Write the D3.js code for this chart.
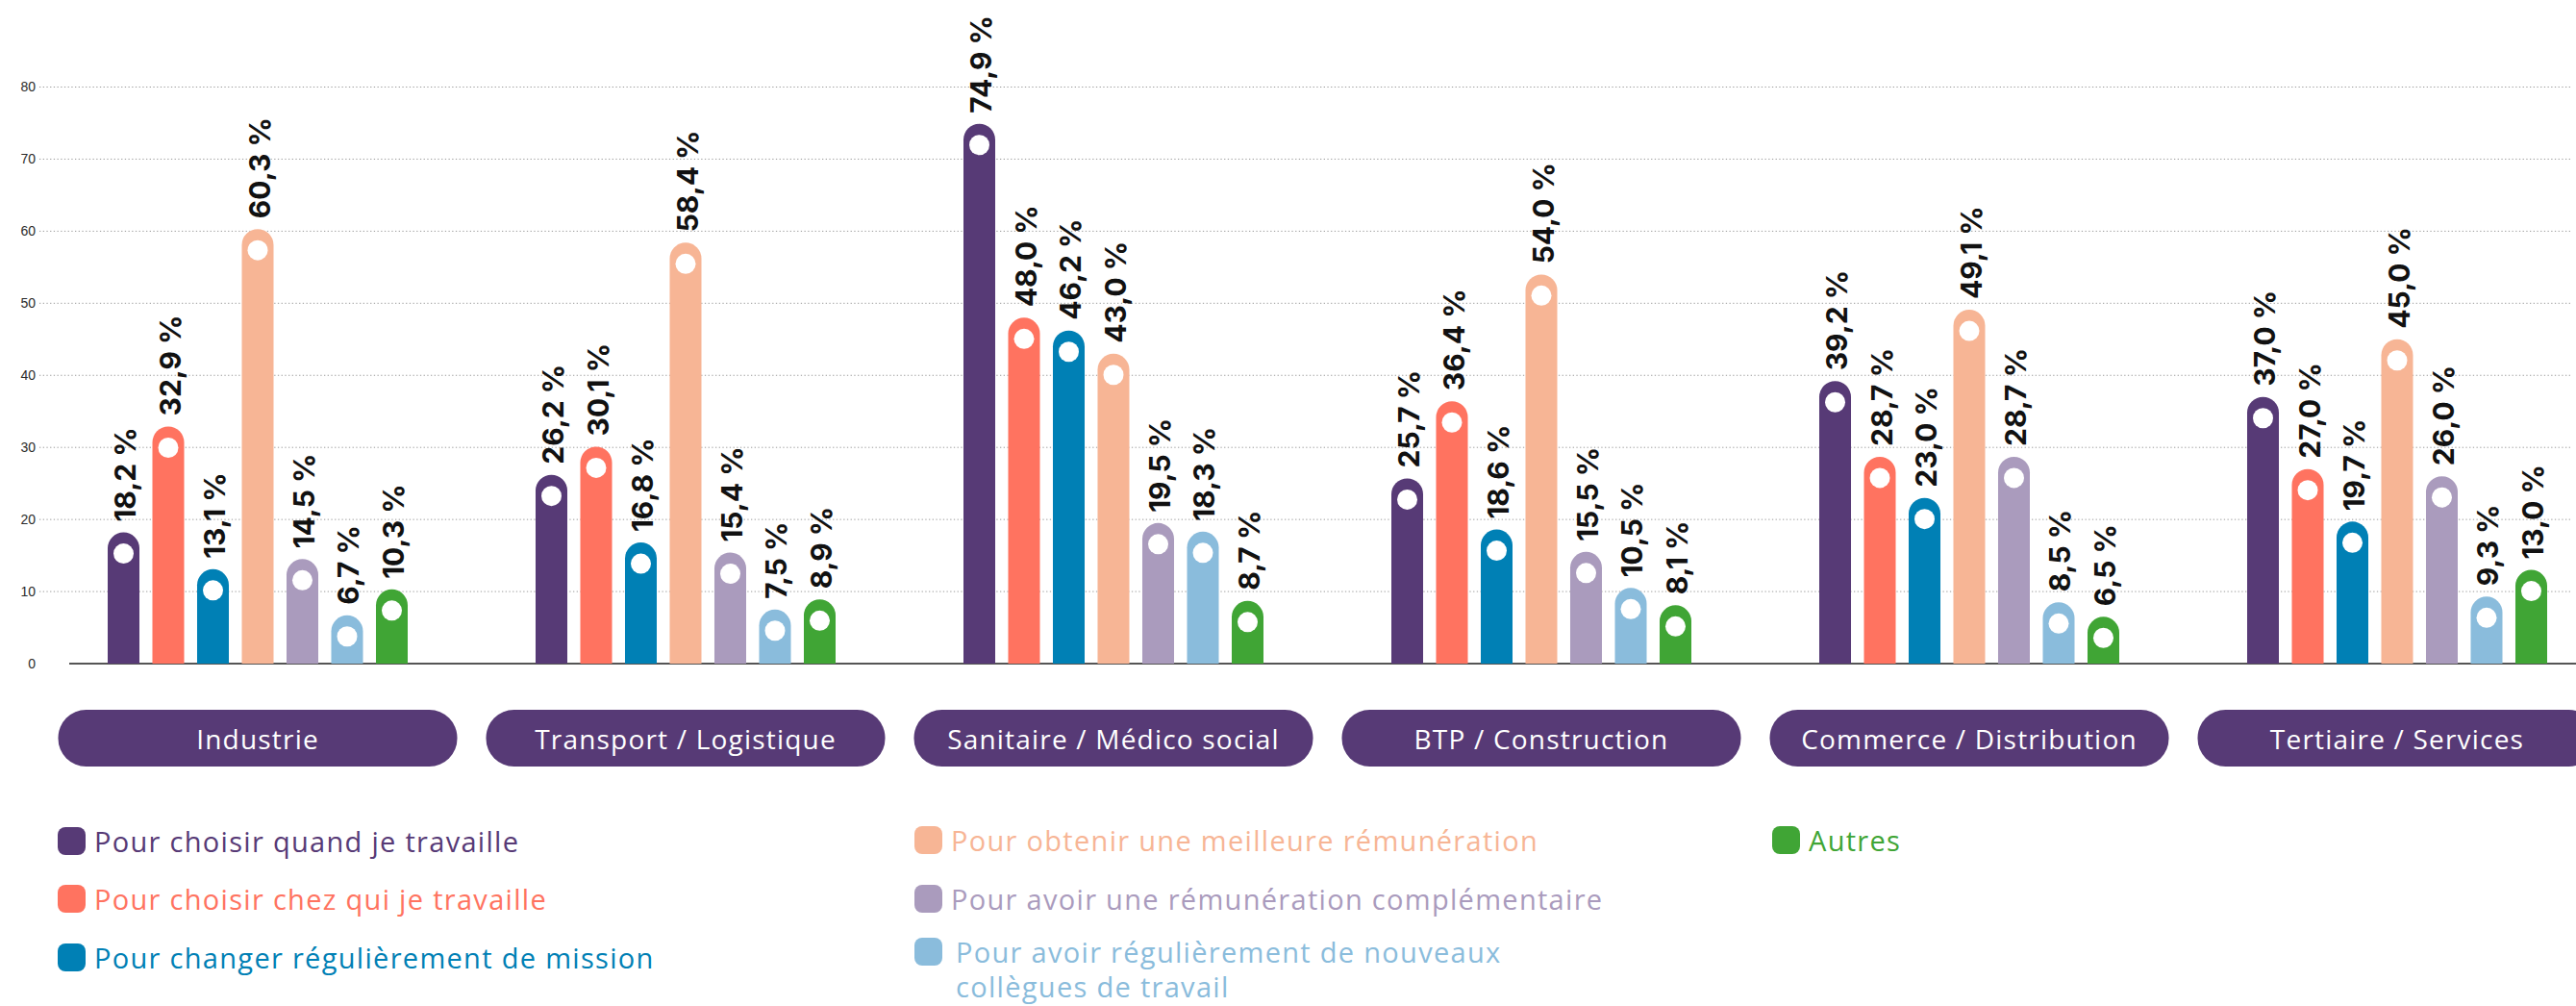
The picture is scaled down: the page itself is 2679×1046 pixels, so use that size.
<!DOCTYPE html>
<html>
<head>
<meta charset="utf-8">
<script src="https://cdn.jsdelivr.net/npm/d3@7"></script>
<style>
  html, body { margin: 0; padding: 0; background: #ffffff; }
  svg { display: block; }
</style>
</head>
<body>
<svg id="chart" width="2679" height="1046"></svg>
<script>
// ---------- DATA ----------
const categories = [
  "Industrie",
  "Transport / Logistique",
  "Sanitaire / Médico social",
  "BTP / Construction",
  "Commerce / Distribution",
  "Tertiaire / Services"
];
const seriesNames = [
  "Pour choisir quand je travaille",
  "Pour choisir chez qui je travaille",
  "Pour changer régulièrement de mission",
  "Pour obtenir une meilleure rémunération",
  "Pour avoir une rémunération complémentaire",
  "Pour avoir régulièrement de nouveaux\ncollègues de travail",
  "Autres"
];
const quandValues        = [18.2, 26.2, 74.9, 25.7, 39.2, 37.0];
const chezQuiValues      = [32.9, 30.1, 48.0, 36.4, 28.7, 27.0];
const missionValues      = [13.1, 16.8, 46.2, 18.6, 23.0, 19.7];
const meilleureValues    = [60.3, 58.4, 43.0, 54.0, 49.1, 45.0];
const complementValues   = [14.5, 15.4, 19.5, 15.5, 28.7, 26.0];
const collegueValues     = [6.7, 7.5, 18.3, 10.5, 8.5, 9.3];
const autresValues       = [10.3, 8.9, 8.7, 8.1, 6.5, 13.0];
const yTicks = [0, 10, 20, 30, 40, 50, 60, 70, 80];

const seriesValues = [quandValues, chezQuiValues, missionValues, meilleureValues,
                      complementValues, collegueValues, autresValues];
const colors = ["#573a76", "#ff7360", "#0080b5", "#f7b595", "#aa9bbd", "#8abcdc", "#40a535"];

// ---------- LAYOUT ----------
const W = 2679, H = 1046;
const svg = d3.select("#chart");

const y = d3.scaleLinear().domain([0, 80]).range([690, 90.5]);

const x0 = d3.scaleBand()
  .domain(categories)
  .range([60.5, 2700.5])
  .paddingInner(30 / 445)
  .paddingOuter(0);

const x1 = d3.scaleBand()
  .domain(d3.range(seriesNames.length))
  .range([0, x0.bandwidth()])
  .paddingInner(0.29)
  .paddingOuter(1.1075);

// gridlines
svg.append("g").selectAll("line")
  .data(yTicks.filter(d => d > 0))
  .join("line")
  .attr("x1", 41).attr("x2", 2673)
  .attr("y1", d => y(d)).attr("y2", d => y(d))
  .attr("stroke", "#9a9a9a")
  .attr("stroke-width", 1)
  .attr("stroke-dasharray", "1.3,2.4");

// y axis labels
const yAxis = d3.axisLeft(y).tickValues(yTicks).tickSize(0).tickPadding(0);
const gy = svg.append("g").attr("transform", "translate(37,0)").call(yAxis);
gy.select(".domain").remove();
gy.selectAll("text")
  .attr("font-family", "'Liberation Sans', Arial, sans-serif")
  .attr("font-size", 14)
  .attr("fill", "#2b2b2b");

// baseline
svg.append("line")
  .attr("x1", 72).attr("x2", W)
  .attr("y1", y(0)).attr("y2", y(0))
  .attr("stroke", "#555555")
  .attr("stroke-width", 2);

// bars
const barData = [];
categories.forEach((c, ci) => {
  seriesValues.forEach((vals, si) => {
    barData.push({ cat: c, s: si, v: vals[ci] });
  });
});

function barPath(d) {
  const x = x0(d.cat) + x1(d.s);
  const w = x1.bandwidth();
  const r = w / 2;
  const yt = y(d.v);
  const yb = y(0);
  return `M${x},${yb} L${x},${yt + r} A${r},${r} 0 0 1 ${x + w},${yt + r} L${x + w},${yb} Z`;
}

const gBars = svg.append("g");
gBars.selectAll("path")
  .data(barData)
  .join("path")
  .attr("d", barPath)
  .attr("fill", d => colors[d.s]);

gBars.selectAll("circle")
  .data(barData)
  .join("circle")
  .attr("cx", d => x0(d.cat) + x1(d.s) + x1.bandwidth() / 2)
  .attr("cy", d => y(d.v) + 22)
  .attr("r", 10.5)
  .attr("fill", "#ffffff");

// value labels
const fmt = v => d3.format(".1f")(v).replace(".", ",") + " %";
svg.append("g").selectAll("text")
  .data(barData)
  .join("text")
  .attr("transform", d => {
    const cx = x0(d.cat) + x1(d.s) + x1.bandwidth() / 2;
    return `translate(${cx + 12.5},${y(d.v) - 11}) rotate(-90)`;
  })
  .attr("text-anchor", "start")
  .attr("font-family", "Inter, 'Open Sans', sans-serif")
  .attr("font-weight", 700)
  .attr("font-size", 30)
  .attr("fill", "#111111")
  .text(d => fmt(d.v));

// category pills
const gPills = svg.append("g");
gPills.selectAll("rect")
  .data(categories)
  .join("rect")
  .attr("x", d => x0(d))
  .attr("y", 738)
  .attr("width", x0.bandwidth())
  .attr("height", 59)
  .attr("rx", 29)
  .attr("fill", "#573a76");
gPills.selectAll("text")
  .data(categories)
  .join("text")
  .attr("x", d => x0(d) + x0.bandwidth() / 2)
  .attr("y", 779)
  .attr("text-anchor", "middle")
  .attr("font-family", "'Open Sans', Lato, sans-serif")
  .attr("font-weight", 500)
  .attr("font-size", 28)
  .attr("letter-spacing", 1.2)
  .attr("fill", "#ffffff")
  .text(d => d);

// legend
const legCols = [60, 951, 1843];
const legRowsByCol = [[860, 920, 981], [859, 920, 975], [859]];
const legendItems = seriesNames.map((name, i) => ({
  name, i,
  col: i < 3 ? 0 : (i < 6 ? 1 : 2),
  row: i < 3 ? i : (i < 6 ? i - 3 : 0)
}));
const gLeg = svg.append("g");
const li = gLeg.selectAll("g")
  .data(legendItems)
  .join("g")
  .attr("transform", d => `translate(${legCols[d.col]},${legRowsByCol[d.col][d.row]})`);
li.append("rect")
  .attr("width", 29).attr("height", 29)
  .attr("rx", 8)
  .attr("fill", d => colors[d.i]);
const lt = li.append("text")
  .attr("x", 38)
  .attr("y", 26)
  .attr("font-family", "'Open Sans', Lato, sans-serif")
  .attr("font-weight", 500)
  .attr("font-size", 29)
  .attr("letter-spacing", 1.3)
  .attr("fill", d => colors[d.i]);
lt.each(function(d) {
  const lines = d.name.split("\n");
  const t = d3.select(this);
  lines.forEach((ln, k) => {
    t.append("tspan")
      .attr("x", lines.length > 1 ? 43 : 38)
      .attr("dy", k === 0 ? 0 : 36)
      .text(ln);
  });
});
</script>
</body>
</html>
